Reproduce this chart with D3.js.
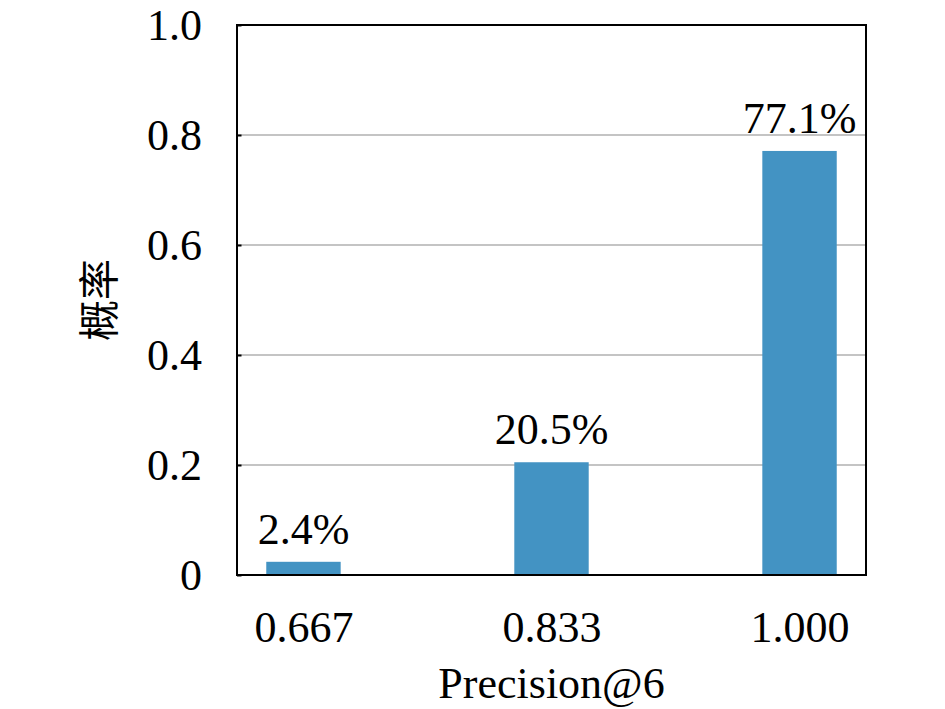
<!DOCTYPE html>
<html lang="zh">
<head>
    <meta charset="UTF-8">
    <title>Precision@6</title>
    <script src="https://cdn.jsdelivr.net/npm/d3@7"></script>
    <style>
        body { margin: 0; background: #fff; }
        svg text { font-family: "Liberation Serif", "Times New Roman", Times, "DejaVu Serif", serif; fill: #000; }
        svg text.ylab { font-family: "Noto Sans CJK SC", sans-serif; }
    </style>
</head>
<body>
<script>
    const categories = ['0.667', '0.833', '1.000'];
    const probs = [0.024, 0.205, 0.771];
    const labels = ['2.4%', '20.5%', '77.1%'];
    const yTicks = [0, 0.2, 0.4, 0.6, 0.8, 1.0];

    const w = 945, h = 709;
    const m = { left: 237, right: 866, top: 25, bottom: 575 };
    const fs = 44;

    const svg = d3.select('body').append('svg')
        .attr('width', w)
        .attr('height', h);

    const x = d3.scalePoint(categories, [m.left, m.right]).padding(0.268);
    const y = d3.scaleLinear([0, 1], [m.bottom, m.top]);
    const barW = x.step() * 0.3;

    // grid
    svg.append('g')
        .selectAll('line')
        .data(yTicks.filter(t => t > 0 && t < 1))
        .join('line')
        .attr('x1', m.left).attr('x2', m.right)
        .attr('y1', d => y(d)).attr('y2', d => y(d))
        .attr('stroke', '#b0b0b0')
        .attr('stroke-width', 1.5);

    // bars
    svg.append('g')
        .selectAll('rect')
        .data(probs)
        .join('rect')
        .attr('x', (d, i) => x(categories[i]) - barW / 2)
        .attr('y', d => y(d))
        .attr('width', barW)
        .attr('height', d => y(0) - y(d))
        .attr('fill', '#4393c3');

    // value labels
    svg.append('g')
        .selectAll('text')
        .data(probs)
        .join('text')
        .attr('x', (d, i) => x(categories[i]))
        .attr('y', d => y(d) - 18)
        .attr('text-anchor', 'middle')
        .attr('font-size', fs)
        .text((d, i) => labels[i]);

    // y axis
    const yAxis = d3.axisLeft(y)
        .tickValues(yTicks)
        .tickFormat(d => d === 0 ? '0' : d3.format('.1f')(d))
        .tickSizeInner(-4.5)
        .tickSizeOuter(0)
        .tickPadding(35);
    const gy = svg.append('g')
        .attr('transform', `translate(${m.left},0)`)
        .call(yAxis)
        .attr('font-family', null);
    gy.select('.domain').remove();
    gy.selectAll('line').attr('stroke', '#000').attr('stroke-width', 2);
    gy.selectAll('text')
        .attr('font-size', fs)
        .attr('dy', '0.34em');

    // x axis labels
    const xAxis = d3.axisBottom(x).tickSize(0).tickPadding(35);
    const gx = svg.append('g')
        .attr('transform', `translate(0,${m.bottom})`)
        .call(xAxis)
        .attr('font-family', null);
    gx.select('.domain').remove();
    gx.selectAll('text')
        .attr('font-size', fs)
        .attr('dy', '0.72em');

    // frame
    svg.append('rect')
        .attr('x', m.left).attr('y', m.top)
        .attr('width', m.right - m.left)
        .attr('height', m.bottom - m.top)
        .attr('fill', 'none')
        .attr('stroke', '#000')
        .attr('stroke-width', 2);

    // titles
    svg.append('text')
        .attr('x', (m.left + m.right) / 2)
        .attr('y', 698)
        .attr('text-anchor', 'middle')
        .attr('font-size', fs)
        .text('Precision@6');

    svg.append('text')
        .attr('class', 'ylab')
        .attr('transform', `translate(114,${(m.top + m.bottom) / 2}) rotate(-90)`)
        .attr('text-anchor', 'middle')
        .attr('font-size', 41)
        .text('概率');
</script>
</body>
</html>
